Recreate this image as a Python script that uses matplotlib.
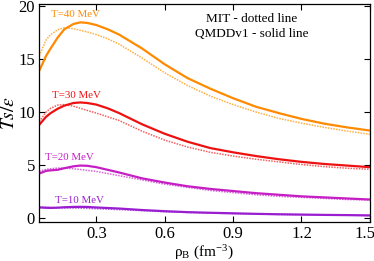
import matplotlib
matplotlib.use("Agg")
import matplotlib.pyplot as plt
import matplotlib.transforms as mtransforms

plt.rcParams['font.family'] = ['Liberation Serif', 'DejaVu Serif']
plt.rcParams['mathtext.fontset'] = 'stix'

# Data
rho = [0.05, 0.08, 0.10, 0.13, 0.16, 0.20, 0.23, 0.26, 0.30, 0.35, 0.40, 0.50, 0.60, 0.70,
       0.80, 0.90, 1.00, 1.10, 1.20, 1.30, 1.40, 1.50]

t40_solid = [13.9, 15.3, 16.0, 17.0, 17.8, 18.3, 18.45, 18.4, 18.2, 17.8, 17.3, 16.0, 14.5, 13.2,
             12.2, 11.3, 10.5, 9.9, 9.35, 8.9, 8.55, 8.25]
t40_dot = [15.3, 16.8, 17.3, 17.75, 17.95, 17.85, 17.7, 17.55, 17.3, 16.9, 16.4, 15.1, 13.7, 12.5,
           11.5, 10.7, 10.0, 9.4, 8.95, 8.55, 8.2, 7.9]

t30_solid = [8.8, 9.55, 9.9, 10.3, 10.6, 10.85, 10.9, 10.85, 10.7, 10.35, 9.9, 8.85, 7.95, 7.2,
             6.6, 6.2, 5.85, 5.55, 5.3, 5.1, 4.95, 4.8]
t30_dot = [9.1, 10.0, 10.35, 10.65, 10.7, 10.55, 10.35, 10.15, 9.9, 9.55, 9.2, 8.2, 7.35, 6.7,
           6.2, 5.85, 5.55, 5.3, 5.05, 4.85, 4.7, 4.6]

t20_solid = [4.2, 4.45, 4.5, 4.55, 4.7, 4.88, 4.95, 4.93, 4.8, 4.55, 4.3, 3.75, 3.35, 3.0,
             2.75, 2.55, 2.35, 2.2, 2.05, 1.95, 1.85, 1.75]
t20_dot = [4.4, 4.6, 4.65, 4.72, 4.72, 4.65, 4.58, 4.5, 4.4, 4.2, 4.0, 3.6, 3.2, 2.9,
           2.6, 2.4, 2.2, 2.05, 1.95, 1.85, 1.75, 1.7]

t10_solid = [1.0, 0.97, 0.96, 0.98, 1.02, 1.05, 1.06, 1.05, 1.0, 0.95, 0.9, 0.76, 0.65, 0.56,
             0.5, 0.45, 0.4, 0.36, 0.33, 0.3, 0.28, 0.25]
t10_dot = [1.05, 1.02, 1.0, 0.98, 0.96, 0.95, 0.93, 0.91, 0.88, 0.84, 0.8, 0.7, 0.6, 0.53,
           0.47, 0.42, 0.38, 0.34, 0.31, 0.29, 0.27, 0.24]

xtick_vals = [0.3, 0.6, 0.9, 1.2, 1.5]
xtick_labels = ["0.3", "0.6", "0.9", "1.2", "1.5"]
ytick_vals = [0, 5, 10, 15, 20]

series = [
    ("T=40 MeV", t40_solid, t40_dot, "#FF8A00", "#FFB040", (0.10, 19.15)),
    ("T=30 MeV", t30_solid, t30_dot, "#EE1111", "#F56060", (0.105, 11.55)),
    ("T=20 MeV", t20_solid, t20_dot, "#C41EC4", "#D866D8", (0.075, 5.7)),
    ("T=10 MeV", t10_solid, t10_dot, "#9A1ED0", "#B060E0", (0.12, 1.65)),
]

fig = plt.figure(figsize=(3.74, 2.61), dpi=100)
ax = fig.add_axes([0.105, 0.149, 0.884, 0.836])

for label, sol, dot, c, cd, pos in series:
    ax.plot(rho, dot, color=cd, lw=1.1, linestyle=(0, (1, 0.8)))
    ax.plot(rho, sol, color=c, lw=1.6)
    ax.text(pos[0], pos[1], label, color=c, fontsize=7.8, ha='left', va='center')

ax.text(0.643, 0.931, "MIT - dotted line", transform=ax.transAxes, ha='center', va='center', fontsize=9.5)
ax.text(0.643, 0.862, "QMDDv1 - solid line", transform=ax.transAxes, ha='center', va='center', fontsize=9.5)

ax.set_xlim(0.05, 1.5)
ax.set_ylim(-0.38, 20.19)
ax.set_xticks(xtick_vals)
ax.set_xticklabels(xtick_labels)
ax.set_yticks(ytick_vals)
ax.tick_params(direction='in', top=True, right=True, length=4, width=0.8, labelsize=12, pad=3)
for s in ax.spines.values():
    s.set_linewidth(0.9)

# nudge last x tick label so it stays inside the figure
last = ax.get_xticklabels()[-1]
last.set_transform(last.get_transform() + mtransforms.ScaledTranslation(-5 / 100, 0, fig.dpi_scale_trans))

ax.set_ylabel(r"$Ts/\epsilon$", fontsize=14, labelpad=0)
ax.set_xlabel(r"ρ$_\mathregular{B}$ (fm$^\mathregular{-3}$)", fontsize=11, labelpad=0)

fig.savefig("out.png", dpi=100)
